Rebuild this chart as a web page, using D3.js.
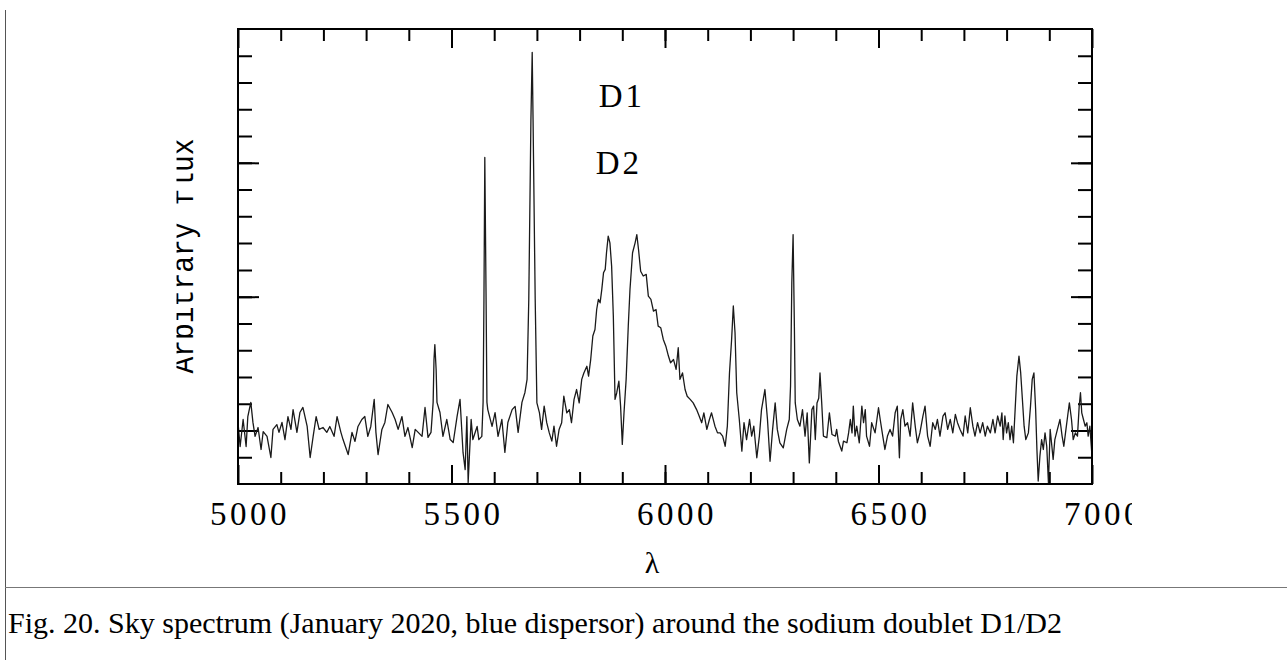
<!DOCTYPE html>
<html>
<head>
<script src="https://d3js.org/d3.v7.min.js"></script>
<style>
  body { margin: 0; background: #fff; }
</style>
</head>
<body>
<svg width="1287" height="660"></svg>
<script>
// spectrum: wavelength (A) and arbitrary flux
var wavelength = [
  5000,5005,5012,5019,5023,5030,5035,5040,5047,5054,5059,5068,5077,5082,5091,5096,5103,
  5110,5117,5124,5129,5138,5145,5152,5162,5169,5176,5183,5190,5199,5208,5215,5225,5232,
  5241,5246,5258,5267,5274,5281,5290,5297,5304,5311,5319,5323,5328,5337,5344,5351,5361,
  5368,5375,5384,5391,5398,5408,5415,5422,5431,5438,5445,5452,5457,5459,5461,5464,5466,
  5473,5480,5489,5497,5504,5513,5520,5527,5532,5536,5539,5546,5550,5560,5564,5571,5574,
  5576,5578,5581,5583,5585,5595,5602,5609,5618,5625,5632,5642,5649,5656,5665,5672,5677,
  5681,5686,5689,5691,5696,5700,5706,5711,5717,5723,5729,5735,5740,5746,5752,5758,5763,
  5770,5776,5781,5787,5793,5799,5805,5810,5817,5821,5826,5831,5836,5840,5844,5848,5852,
  5856,5860,5863,5867,5871,5875,5879,5883,5887,5892,5896,5900,5904,5909,5914,5918,5924,
  5930,5934,5938,5943,5949,5956,5961,5967,5973,5979,5984,5990,5996,6002,6008,6013,6020,
  6026,6031,6035,6041,6047,6052,6059,6066,6074,6080,6086,6091,6098,6104,6109,6117,6123,
  6129,6135,6141,6146,6151,6156,6160,6164,6168,6174,6180,6185,6191,6198,6203,6208,6215,
  6221,6226,6234,6240,6246,6252,6258,6263,6269,6277,6285,6291,6294,6297,6300,6303,6305,
  6310,6316,6322,6328,6333,6338,6344,6348,6352,6356,6360,6363,6367,6371,6379,6385,6391,
  6399,6402,6406,6410,6414,6418,6426,6430,6434,6438,6441,6445,6449,6455,6461,6465,6469,
  6472,6479,6484,6492,6500,6504,6510,6515,6521,6527,6533,6539,6544,6549,6552,6557,6562,
  6568,6574,6580,6586,6591,6597,6604,6609,6615,6621,6627,6633,6638,6644,6651,6656,6662,
  6668,6674,6680,6685,6691,6698,6703,6709,6715,6721,6726,6732,6738,6744,6750,6755,6762,
  6768,6773,6779,6785,6789,6792,6796,6800,6804,6808,6812,6816,6820,6824,6829,6833,6837,
  6841,6845,6851,6856,6860,6864,6868,6871,6874,6878,6882,6886,6890,6894,6898,6902,6906,
  6909,6913,6919,6925,6930,6934,6939,6943,6947,6952,6956,6961,6966,6970,6973,6976,6980,
  6984,6988,6991,6995,7000
];
var flux = [
  0.30,-0.60,0.41,-0.60,0.52,1.05,0.30,-0.22,0.11,-0.71,-0.04,-0.22,-1.01,0.04,0.22,-0.07,0.30,
  -0.34,0.52,0.04,0.78,-0.07,0.67,0.86,0.15,-1.01,-0.22,0.52,0.04,0.11,-0.07,0.15,-0.22,0.52,
  -0.07,-0.34,-0.90,-0.07,-0.41,0.15,0.41,0.52,-0.22,0.15,1.16,-0.07,-0.90,0.04,0.30,0.97,0.67,
  0.41,0.04,0.52,-0.22,0.11,-0.64,0.04,-0.07,-0.22,0.86,-0.26,-0.07,1.05,2.65,3.21,2.28,1.05,
  0.67,-0.22,0.41,-0.34,-0.45,0.52,1.16,-0.82,-1.46,0.52,-1.94,0.41,-0.34,0.15,-0.34,-0.22,1.05,
  4.90,10.20,4.90,1.05,0.78,0.15,0.67,-0.22,0.41,-0.82,0.30,0.78,0.90,-0.07,1.05,1.42,1.91,
  4.90,11.62,14.13,11.62,4.90,1.03,0.66,0.04,0.91,0.29,-0.09,-0.40,0.16,-0.59,0.04,0.29,1.28,
  0.66,0.78,0.29,1.16,1.53,1.03,1.91,2.15,2.40,2.03,2.65,3.53,3.77,4.52,4.90,4.77,5.27,
  5.89,6.02,6.64,7.26,7.01,6.14,4.27,1.16,1.41,1.84,0.91,-0.52,0.66,1.91,3.90,5.27,6.64,
  7.01,7.32,6.76,5.95,5.77,5.83,5.02,4.90,4.46,4.52,3.90,3.84,3.40,3.15,2.78,2.53,2.65,
  2.28,3.09,1.91,2.15,1.53,1.28,1.16,1.03,0.78,0.54,0.29,0.66,0.04,0.41,0.66,0.16,-0.09,
  -0.09,-0.21,-0.59,0.16,2.15,3.40,4.65,3.65,1.41,0.41,-0.77,0.29,-0.34,0.41,-0.21,0.16,-1.02,
  -0.21,0.78,1.53,0.41,-1.15,0.04,1.03,0.04,-0.46,-0.65,0.04,0.41,1.66,5.53,7.32,3.89,1.03,
  0.41,0.16,0.78,-0.21,0.66,-1.21,0.78,0.91,-0.34,1.03,1.20,2.15,1.03,-0.21,-0.27,0.66,-0.15,
  -0.21,0.04,-0.40,-0.59,-0.77,-0.40,-0.46,-0.09,0.41,-0.09,0.91,-0.21,0.16,-0.46,0.91,0.29,0.78,
  -0.21,-0.59,0.29,-0.09,0.85,0.41,-0.21,-0.71,-0.21,0.04,-0.21,0.66,0.91,-1.02,0.41,0.78,0.16,
  0.29,-0.21,1.03,0.16,-0.46,-0.09,0.54,0.91,-0.21,-0.59,0.29,0.04,0.41,-0.21,0.54,0.66,0.04,
  0.41,-0.09,0.60,0.29,0.04,-0.21,0.54,-0.09,0.85,0.16,-0.21,0.29,-0.09,0.29,-0.21,0.16,-0.09,
  0.41,-0.09,0.54,0.16,0.66,-0.34,0.54,-0.09,0.29,-0.34,0.16,-0.46,0.78,2.03,2.78,2.15,1.16,
  0.16,-0.34,-0.09,0.91,1.91,2.15,0.78,-0.71,-1.89,-0.96,-0.34,-0.71,-0.09,-0.59,-1.96,0.04,-0.59,
  -1.08,-0.34,0.04,0.41,-0.21,-0.59,0.04,0.54,1.03,0.41,-0.34,-0.09,-0.21,0.91,1.41,0.66,0.41,
  0.16,0.29,-0.21,0.16,-0.96
];
var xMajorTicks = [5000, 5500, 6000, 6500, 7000];
var xMinorTicks = d3.range(5100, 7000, 100);
var yMajorTicks = [0, 5, 10];
var yMinorTicks = d3.range(-1, 15, 1);
var lineNames = ["D1", "D2"];
var lineLabelPos = [[5899, 12.1], [5892, 9.6]];
var xTitle = "\u03bb";
var yTitle = "Arbitrary flux";
var caption = "Fig. 20. Sky spectrum (January 2020, blue dispersor) around the sodium doublet D1/D2";

var svg = d3.select("svg");

var x = d3.scaleLinear().domain([5000, 7000]).range([238, 1092]);
var y = d3.scaleLinear().domain([-2, 15]).range([484, 29]);

// page frame: left rule and caption separator
svg.append("line").attr("x1", 5.5).attr("x2", 5.5).attr("y1", 10).attr("y2", 660)
  .attr("stroke", "#555").attr("stroke-width", 1);
svg.append("line").attr("x1", 5).attr("x2", 1287).attr("y1", 587.5).attr("y2", 587.5)
  .attr("stroke", "#777").attr("stroke-width", 1);
svg.append("text").attr("x", 8).attr("y", 633)
  .attr("font-family", "Liberation Serif").attr("font-size", 30).attr("fill", "#000")
  .text(caption);

// the figure image is cropped on its left and right
svg.append("clipPath").attr("id", "fig").append("rect")
  .attr("x", 176.5).attr("y", 0).attr("width", 955.5).attr("height", 586);
svg.append("clipPath").attr("id", "plot").append("rect")
  .attr("x", 238).attr("y", 29).attr("width", 854).attr("height", 455);

var fig = svg.append("g").attr("clip-path", "url(#fig)");

function ticks(axis, vals, size) {
  return g => g.call(axis.tickValues(vals).tickSize(-size).tickFormat(""))
    .call(g => g.select(".domain").remove())
    .call(g => g.selectAll(".tick line").attr("stroke", "#000").attr("stroke-width", 2));
}

fig.append("g").attr("transform", "translate(0,484)").call(ticks(d3.axisBottom(x), xMinorTicks, 12));
fig.append("g").attr("transform", "translate(0,484)").call(ticks(d3.axisBottom(x), xMajorTicks, 19));
fig.append("g").attr("transform", "translate(0,29)").call(ticks(d3.axisTop(x), xMinorTicks, 12));
fig.append("g").attr("transform", "translate(0,29)").call(ticks(d3.axisTop(x), xMajorTicks, 19));
fig.append("g").attr("transform", "translate(238,0)").call(ticks(d3.axisLeft(y), yMinorTicks, 14));
fig.append("g").attr("transform", "translate(238,0)").call(ticks(d3.axisLeft(y), yMajorTicks, 21));
fig.append("g").attr("transform", "translate(1092,0)").call(ticks(d3.axisRight(y), yMinorTicks, 14));
fig.append("g").attr("transform", "translate(1092,0)").call(ticks(d3.axisRight(y), yMajorTicks, 21));

// tick labels
fig.append("g").selectAll("text")
  .data(xMajorTicks)
  .join("text")
  .attr("x", d => x(d) + 12)
  .attr("y", 525)
  .attr("text-anchor", "middle")
  .attr("font-family", "Liberation Serif")
  .attr("font-size", 33)
  .attr("letter-spacing", 3.5)
  .attr("fill", "#000")
  .text(d => d);

// spectrum
fig.append("path")
  .datum(d3.zip(wavelength, flux))
  .attr("clip-path", "url(#plot)")
  .attr("fill", "none")
  .attr("stroke", "#1a1a1a")
  .attr("stroke-width", 1.3)
  .attr("stroke-linejoin", "round")
  .attr("d", d3.line().x(d => x(d[0])).y(d => y(d[1])));

// frame
fig.append("rect")
  .attr("x", 238).attr("y", 29).attr("width", 854).attr("height", 455)
  .attr("fill", "none").attr("stroke", "#000").attr("stroke-width", 2);

// line labels
fig.append("g").selectAll("text")
  .data(lineNames)
  .join("text")
  .attr("x", (d, i) => x(lineLabelPos[i][0]))
  .attr("y", (d, i) => y(lineLabelPos[i][1]))
  .attr("text-anchor", "middle")
  .attr("font-family", "Liberation Serif")
  .attr("font-size", 33)
  .attr("letter-spacing", 3)
  .attr("fill", "#000")
  .text(d => d);

// axis titles
fig.append("text")
  .attr("x", 652).attr("y", 573)
  .attr("text-anchor", "middle")
  .attr("font-family", "Liberation Serif")
  .attr("font-size", 30)
  .attr("fill", "#000")
  .text(xTitle);

fig.append("text")
  .attr("transform", "translate(193,256) rotate(-90) scale(1,1.12)")
  .attr("text-anchor", "middle")
  .attr("font-family", "Liberation Mono")
  .attr("font-size", 28)
  .attr("fill", "#000")
  .text(yTitle);
</script>
</body>
</html>
